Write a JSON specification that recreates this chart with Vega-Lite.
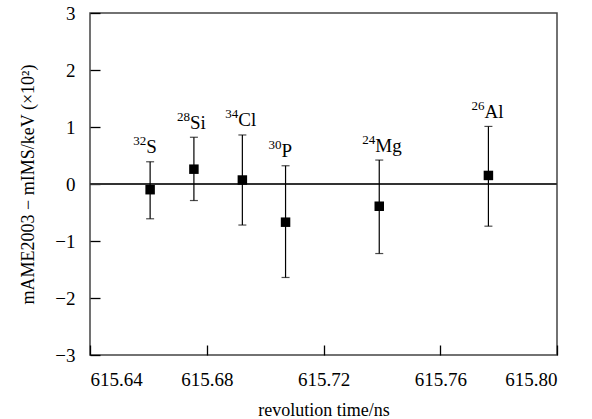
{
  "$schema": "https://vega.github.io/schema/vega-lite/v6.json",
  "width": 467,
  "height": 342,
  "autosize": {"type": "none"},
  "padding": {"left": 90, "top": 13, "right": 35, "bottom": 64},
  "background": "white",
  "data": {
    "values": [
      {"mass": "32", "el": "S", "t": 615.6606, "d": -0.10, "lo": -0.61, "hi": 0.39},
      {"mass": "28", "el": "Si", "t": 615.6756, "d": 0.26, "lo": -0.29, "hi": 0.82},
      {"mass": "34", "el": "Cl", "t": 615.6922, "d": 0.07, "lo": -0.72, "hi": 0.86},
      {"mass": "30", "el": "P", "t": 615.7070, "d": -0.67, "lo": -1.64, "hi": 0.32},
      {"mass": "24", "el": "Mg", "t": 615.7391, "d": -0.39, "lo": -1.22, "hi": 0.42},
      {"mass": "26", "el": "Al", "t": 615.7765, "d": 0.15, "lo": -0.74, "hi": 1.01}
    ]
  },
  "encoding": {
    "x": {
      "field": "t", "type": "quantitative",
      "scale": {"domain": [615.64, 615.80], "nice": false, "zero": false},
      "axis": {"values": [615.64, 615.68, 615.72, 615.76, 615.80], "format": ".2f", "title": "revolution time/ns", "ticks": true, "tickSize": -10, "tickColor": "black", "tickOpacity": 1, "tickWidth": 1.3, "labelPadding": 25, "titlePadding": 12}
    },
    "y": {
      "field": "d", "type": "quantitative",
      "scale": {"domain": [-3, 3], "nice": false},
      "axis": {"values": [-3, -2, -1, 0, 1, 2, 3], "format": "d", "title": "mAME2003 − mIMS/keV  (×10²)", "ticks": true, "tickSize": -10, "tickColor": "black", "tickOpacity": 1, "tickWidth": 1.3, "labelPadding": 25, "titlePadding": 17}
    }
  },
  "layer": [
    {
      "mark": {"type": "rule", "color": "#333333", "strokeWidth": 1.3},
      "encoding": {"y": {"datum": 0, "type": "quantitative"}, "x": null}
    },
    {
      "mark": {"type": "rule", "color": "black", "strokeWidth": 1.2},
      "encoding": {
        "y": {"field": "lo", "type": "quantitative"},
        "y2": {"field": "hi"}
      }
    },
    {
      "mark": {"type": "tick", "orient": "horizontal", "color": "black", "size": 8, "thickness": 1.2},
      "encoding": {"y": {"field": "lo", "type": "quantitative"}}
    },
    {
      "mark": {"type": "tick", "orient": "horizontal", "color": "black", "size": 8, "thickness": 1.2},
      "encoding": {"y": {"field": "hi", "type": "quantitative"}}
    },
    {
      "mark": {"type": "square", "size": 90, "filled": true, "color": "black", "opacity": 1}
    },
    {
      "mark": {"type": "text", "font": "Liberation Serif", "fontSize": 19, "align": "left", "baseline": "alphabetic", "dx": -4, "dy": -8.5, "color": "black"},
      "encoding": {
        "y": {"field": "hi", "type": "quantitative"},
        "text": {"field": "el"}
      }
    },
    {
      "mark": {"type": "text", "font": "Liberation Serif", "fontSize": 13, "align": "right", "baseline": "alphabetic", "dx": -4, "dy": -16.5, "color": "black"},
      "encoding": {
        "y": {"field": "hi", "type": "quantitative"},
        "text": {"field": "mass"}
      }
    }
  ],
  "config": {
    "view": {"stroke": "#444444", "strokeWidth": 1.5},
    "axis": {
      "domainOpacity": 0,
      "gridOpacity": 0,
      "labelFont": "Liberation Serif",
      "labelFontSize": 19,
      "labelColor": "black",
      "titleFont": "Liberation Serif",
      "titleFontSize": 18,
      "titleFontWeight": "normal",
      "titleColor": "black"
    }
  }
}
